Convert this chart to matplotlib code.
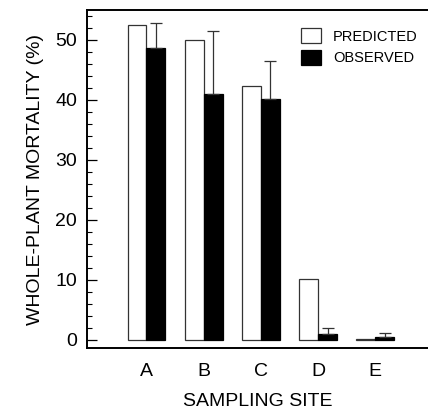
import matplotlib.pyplot as plt
import numpy as np

plt.rcParams['font.family'] = ['Liberation Sans', 'DejaVu Sans']

# Values
sites = ['A', 'B', 'C', 'D', 'E']
predicted = [52.5, 50.0, 42.3, 10.1, 0.1]
observed = [48.6, 41.0, 40.1, 1.0, 0.5]
observed_err = [4.2, 10.4, 6.3, 1.0, 0.6]

fig = plt.figure(figsize=(4.28, 4.12), dpi=100)
ax = fig.add_axes([0.203, 0.155, 0.797, 0.821])

x = np.arange(len(sites))
w = 0.33

ax.bar(x - w / 2, predicted, width=w, color='white', edgecolor='#333333',
       linewidth=0.9, label='PREDICTED')
ax.bar(x + w / 2, observed, width=w, color='black', edgecolor='black',
       linewidth=0.9, label='OBSERVED')
ax.errorbar(x + w / 2, observed, yerr=[np.zeros(len(observed)), observed_err],
            fmt='none', ecolor='#333333', elinewidth=0.9, capsize=4, capthick=0.9)

ax.set_xlim(-1.04, 4.92)
ax.set_ylim(-1.4, 55)
ax.set_xticks(x)
ax.set_xticklabels(sites)
ax.set_yticks([0, 10, 20, 30, 40, 50])
ax.set_yticks(np.arange(0, 56, 2), minor=True)

ax.tick_params(axis='x', length=0, pad=11, labelsize=14)
ax.tick_params(axis='y', which='major', direction='in', length=7, width=0.9,
               pad=7, labelsize=14)
ax.tick_params(axis='y', which='minor', direction='in', length=3.5, width=0.8)

for side in ['left', 'top', 'bottom']:
    ax.spines[side].set_linewidth(1.4)
ax.spines['right'].set_visible(False)

ax.set_xlabel('SAMPLING SITE', fontsize=14, labelpad=9)
ax.set_ylabel('WHOLE-PLANT MORTALITY (%)', fontsize=14, labelpad=8)

ax.legend(loc='upper left', bbox_to_anchor=(0.628, 0.945), frameon=False,
          fontsize=10.5, handlelength=1.37, handleheight=1.15,
          handletextpad=0.8, labelspacing=0.45, borderaxespad=0, borderpad=0)

plt.savefig('out.png', dpi=100)
